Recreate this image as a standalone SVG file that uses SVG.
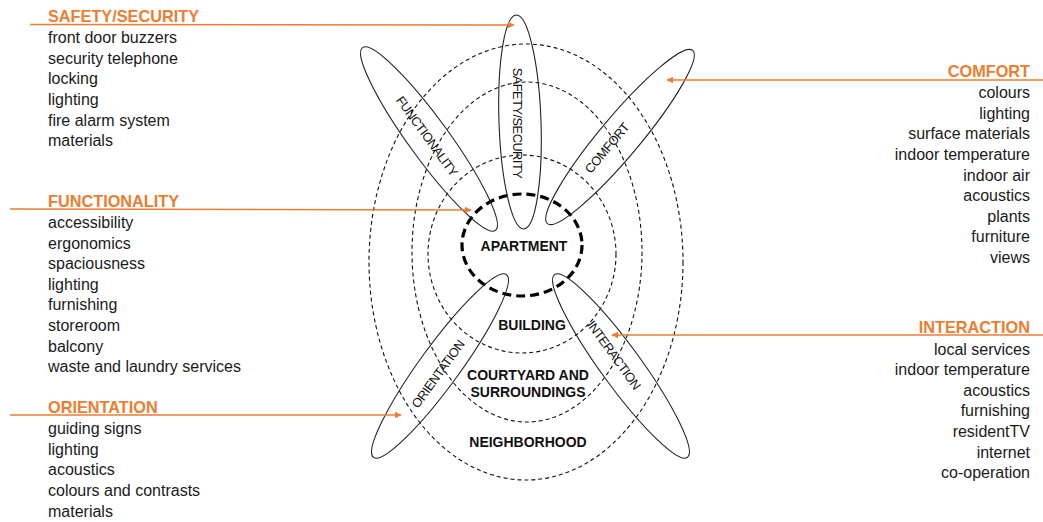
<svg xmlns="http://www.w3.org/2000/svg" width="1043" height="522" viewBox="0 0 1043 522">
<style>
text{font-family:"Liberation Sans",Arial,sans-serif;}
.h{font-size:16.3px;font-weight:bold;fill:#ED7D31;}
.i{font-size:16px;fill:#1a1a1a;}
.r{text-anchor:end;}
.zone{fill:none;stroke:#111;stroke-width:1.1;stroke-dasharray:4 3;}
.apt{fill:none;stroke:#000;stroke-width:3.2;stroke-dasharray:9 5;}
.pet{fill:none;stroke:#222;stroke-width:1.1;}
.pl{font-size:12.8px;letter-spacing:-0.5px;fill:#111;text-anchor:middle;dominant-baseline:central;}
.zl{font-size:14px;font-weight:bold;fill:#111;text-anchor:middle;}
.ln{stroke:#ED7D31;stroke-width:1.5;fill:none;marker-end:url(#ah);}
</style>
<defs>
<marker id="ah" viewBox="0 0 10 10" refX="9" refY="5" markerWidth="7" markerHeight="7" orient="auto" markerUnits="userSpaceOnUse">
<path d="M0,0 L10,5 L0,10 Z" fill="#ED7D31"/>
</marker>
</defs>
<g id="zones">
<ellipse class="zone" cx="526" cy="262" rx="157" ry="218"/>
<ellipse class="zone" cx="527" cy="252" rx="115" ry="170"/>
<ellipse class="zone" cx="522" cy="254" rx="94" ry="99"/>
</g>
<g id="apartment">
<ellipse class="apt" cx="522" cy="245" rx="60" ry="51"/>
<text class="zl" x="524" y="251">APARTMENT</text>
</g>
<g id="building"><text class="zl" x="532" y="330">BUILDING</text></g>
<g id="courtyard"><text class="zl" x="528" y="380">COURTYARD AND</text><text class="zl" x="528" y="397">SURROUNDINGS</text></g>
<g id="neighborhood"><text class="zl" x="528" y="447">NEIGHBORHOOD</text></g>
<g id="p-safety">
<ellipse class="pet" cx="520" cy="122" rx="21" ry="107" transform="rotate(-2 520 122)"/>
<text class="pl" transform="translate(517,123) rotate(90)">SAFETY/SECURITY</text>
</g>
<g id="p-functionality">
<ellipse class="pet" cx="429" cy="139" rx="20" ry="113" transform="rotate(-36 429 139)"/>
<text class="pl" transform="translate(427,136) rotate(54)">FUNCTIONALITY</text>
</g>
<g id="p-comfort">
<ellipse class="pet" cx="620" cy="137" rx="20" ry="113" transform="rotate(40 620 137)"/>
<text class="pl" transform="translate(607,148) rotate(-50)">COMFORT</text>
</g>
<g id="p-orientation">
<ellipse class="pet" cx="440" cy="366" rx="20" ry="113" transform="rotate(36 440 366)"/>
<text class="pl" transform="translate(438,374) rotate(-54)">ORIENTATION</text>
</g>
<g id="p-interaction">
<ellipse class="pet" cx="621" cy="366" rx="20" ry="113" transform="rotate(-36 621 366)"/>
<text class="pl" transform="translate(614,355) rotate(54)">INTERACTION</text>
</g>
<g id="connectors">
<path class="ln" d="M30,24.5 L514,25"/>
<path class="ln" d="M10,209 L471,210"/>
<path class="ln" d="M10,415 L401,415"/>
<path class="ln" d="M1043,80 L667,80"/>
<path class="ln" d="M1043,335 L612,335"/>
</g>
<g id="safety">
<text class="h" x="48" y="22">SAFETY/SECURITY</text>
<text class="i" x="48" y="43">front door buzzers</text>
<text class="i" x="48" y="64">security telephone</text>
<text class="i" x="48" y="84">locking</text>
<text class="i" x="48" y="105">lighting</text>
<text class="i" x="48" y="126">fire alarm system</text>
<text class="i" x="48" y="146">materials</text>
</g>
<g id="functionality">
<text class="h" x="48" y="207">FUNCTIONALITY</text>
<text class="i" x="48" y="228">accessibility</text>
<text class="i" x="48" y="249">ergonomics</text>
<text class="i" x="48" y="269">spaciousness</text>
<text class="i" x="48" y="290">lighting</text>
<text class="i" x="48" y="310">furnishing</text>
<text class="i" x="48" y="331">storeroom</text>
<text class="i" x="48" y="352">balcony</text>
<text class="i" x="48" y="372">waste and laundry services</text>
</g>
<g id="orientation">
<text class="h" x="48" y="413">ORIENTATION</text>
<text class="i" x="48" y="434">guiding signs</text>
<text class="i" x="48" y="455">lighting</text>
<text class="i" x="48" y="475">acoustics</text>
<text class="i" x="48" y="496">colours and contrasts</text>
<text class="i" x="48" y="517">materials</text>
</g>
<g id="comfort">
<text class="h r" x="1030" y="77">COMFORT</text>
<text class="i r" x="1030" y="98">colours</text>
<text class="i r" x="1030" y="119">lighting</text>
<text class="i r" x="1030" y="139">surface materials</text>
<text class="i r" x="1030" y="160">indoor temperature</text>
<text class="i r" x="1030" y="181">indoor air</text>
<text class="i r" x="1030" y="201">acoustics</text>
<text class="i r" x="1030" y="222">plants</text>
<text class="i r" x="1030" y="242">furniture</text>
<text class="i r" x="1030" y="263">views</text>
</g>
<g id="interaction">
<text class="h r" x="1030" y="333">INTERACTION</text>
<text class="i r" x="1030" y="355">local services</text>
<text class="i r" x="1030" y="375">indoor temperature</text>
<text class="i r" x="1030" y="396">acoustics</text>
<text class="i r" x="1030" y="416">furnishing</text>
<text class="i r" x="1030" y="437">residentTV</text>
<text class="i r" x="1030" y="458">internet</text>
<text class="i r" x="1030" y="478">co-operation</text>
</g>
</svg>
